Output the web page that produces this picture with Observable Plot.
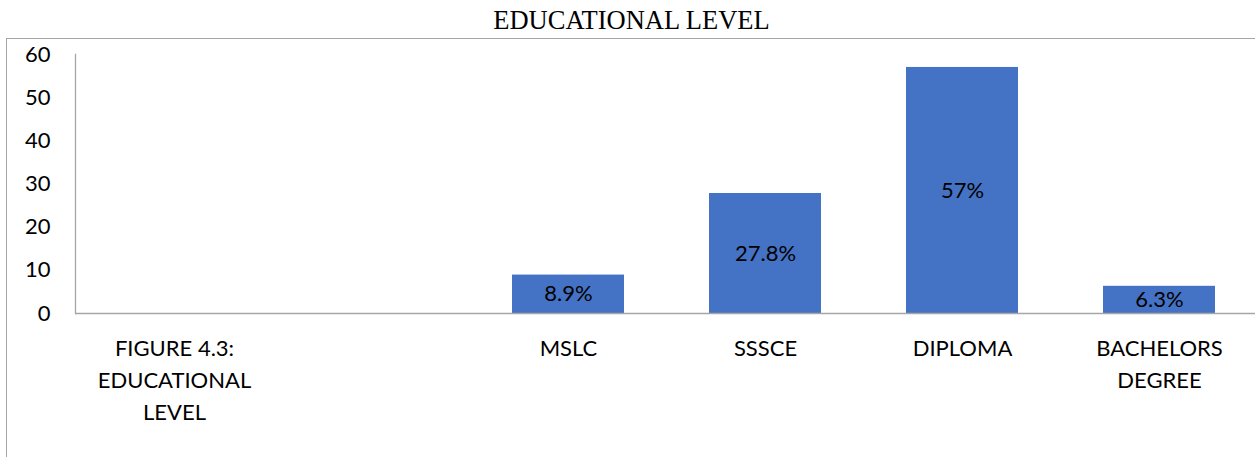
<!DOCTYPE html>
<html>
<head>
<meta charset="utf-8">
<script src="https://cdn.jsdelivr.net/npm/d3@7"></script>
<script src="https://cdn.jsdelivr.net/npm/@observablehq/plot@0.6"></script>
<style>
  html, body { margin: 0; padding: 0; background: #fff; overflow: hidden; width: 1255px; height: 457px; }
  #title { height: 38px; position: relative; font-family: "Liberation Serif", "Times New Roman", serif; font-size: 26.5px; color: #000; }
  #title span { position: absolute; left: 0; width: 1263px; text-align: center; top: 7px; line-height: 26px; }
  #frame { margin-left: 6px; border-top: 1px solid #a6a6a6; border-left: 1px solid #a6a6a6; height: 418px; width: 1248px; }
  #frame svg { display: block; overflow: visible; }
</style>
</head>
<body>
<div id="title"><span>EDUCATIONAL LEVEL</span></div>
<div id="frame"></div>
<script>
const categories = ["FIGURE 4.3: EDUCATIONAL LEVEL", " ", "MSLC", "SSSCE", "DIPLOMA", "BACHELORS DEGREE"];
const tickLabels = ["FIGURE 4.3:\nEDUCATIONAL\nLEVEL", "", "MSLC", "SSSCE", "DIPLOMA", "BACHELORS\nDEGREE"];
const barCategories = ["MSLC", "SSSCE", "DIPLOMA", "BACHELORS DEGREE"];
const barValues = [8.9, 27.8, 57, 6.3];
const barLabels = ["8.9%", "27.8%", "57%", "6.3%"];
const yTicks = [0, 10, 20, 30, 40, 50, 60];

const bars = barCategories.map((c, i) => ({cat: c, value: barValues[i], label: barLabels[i]}));
const labelRows = categories.map((c, i) => ({cat: c, text: tickLabels[i]}));

const font = "Lato, 'Open Sans', sans-serif";

const chart = Plot.plot({
  width: 1248,
  height: 418,
  marginTop: 15,
  marginBottom: 144,
  marginLeft: 68,
  marginRight: 0,
  style: {fontFamily: font, fontSize: "22px", color: "#000", background: "transparent"},
  x: {domain: categories, range: [68, 1252], paddingInner: 0.43, paddingOuter: 0.215, axis: null},
  y: {domain: [0, 60], ticks: yTicks, axis: null},
  marks: [
    Plot.barY(bars, {x: "cat", y: "value", fill: "#4472C4"}),
    Plot.ruleY([0], {stroke: "#a6a6a6", strokeWidth: 1.3}),
    Plot.frame({anchor: "left", stroke: "#a6a6a6", strokeWidth: 1.3}),
    Plot.axisY(yTicks, {tickSize: 0, tickPadding: 25, fontSize: 22, fill: "#000", label: null}),
    Plot.text(bars, {x: "cat", y: d => d.value / 2, text: "label", fontSize: 22, fill: "#000"}),
    Plot.text(labelRows, {x: "cat", y: 0, text: "text", lineAnchor: "top", dy: 20, lineHeight: 1.45, fontSize: 22, fill: "#000"})
  ]
});
document.getElementById("frame").appendChild(chart);
</script>
</body>
</html>
